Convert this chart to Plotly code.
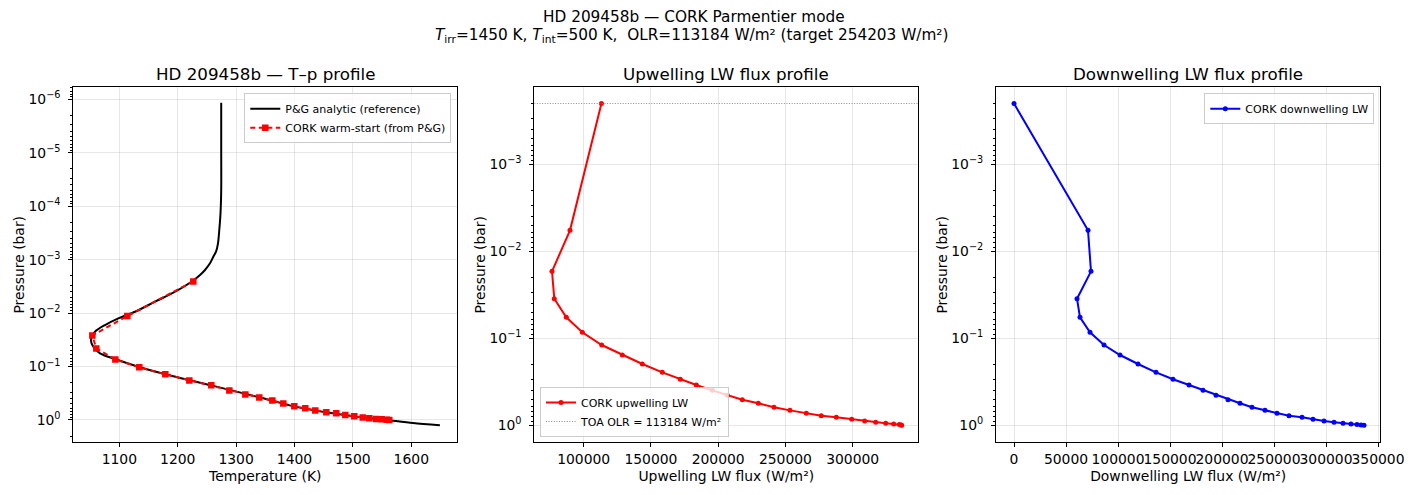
import plotly.graph_objects as go

# ---------------- data ----------------
# P&G analytic reference T-p profile
pg_T = [1274.5, 1274.5, 1274.5, 1273.3, 1271.2, 1269.0, 1265.6, 1261.0, 1255.3, 1246.7,
        1238.2, 1226.7, 1195.4, 1161.1, 1126.9, 1098.3, 1075.5, 1058.4, 1051.5, 1055.5,
        1067.0, 1092.6, 1132.5, 1178.8, 1257.5, 1339.7, 1399.7, 1454.5, 1502.4, 1557.9,
        1603.0, 1649.0]
pg_p = [1.16e-6, 8.9e-6, 5.0e-5, 1.36e-4, 2.79e-4, 4.94e-4, 7.10e-4, 8.81e-4, 1.17e-3, 1.56e-3,
        1.94e-3, 2.45e-3, 3.98e-3, 6.12e-3, 9.42e-3, 0.01253, 0.0167, 0.0223, 0.0320, 0.0426,
        0.0565, 0.0723, 0.1007, 0.1396, 0.2249, 0.3767, 0.5559, 0.7194, 0.8551, 1.0,
        1.140, 1.259]

# CORK warm-start layer temperatures / pressures
cork_T = [1226.7, 1113.7, 1053.8, 1060.6, 1093.2, 1134.2, 1178.8, 1219.9, 1257.5, 1288.4,
          1315.8, 1339.7, 1362.0, 1380.8, 1399.7, 1418.5, 1435.6, 1454.5, 1471.6, 1487.0,
          1502.4, 1516.8, 1528.1, 1539.6, 1549.3, 1557.9, 1562.3]
cork_p = [2.55e-3, 0.01135, 0.0261, 0.0457, 0.0735, 0.1035, 0.140, 0.1816, 0.2249, 0.2793,
          0.3319, 0.3776, 0.4295, 0.4887, 0.5559, 0.6053, 0.6607, 0.7194, 0.7516, 0.8072,
          0.8551, 0.8933, 0.9311, 0.9572, 0.9727, 0.985, 0.995]

# interface pressures for the flux profiles
p_int = [2.0e-4, 5.74e-3, 0.0170, 0.0351, 0.0574, 0.0853, 0.1194, 0.1556, 0.1972, 0.2460,
         0.2958, 0.3443, 0.3963, 0.4519, 0.5082, 0.5585, 0.6209, 0.6730, 0.7278, 0.7762,
         0.8091, 0.8531, 0.8913, 0.9204, 0.9441, 0.9638, 0.9795, 0.9908, 1.0]

flux_up = [113184, 89814, 76431, 78141, 87063, 98959, 113383, 128699, 143569, 158439,
           171822, 183717, 195613, 206766, 217918, 229814, 241487, 253383, 265502, 276654,
           287807, 299257, 308922, 317100, 324535, 330483, 334647, 336000, 336431]

flux_down = [0, 71154, 74038, 60577, 63462, 73077, 86538, 101923, 119231, 136538,
             152885, 168269, 181731, 194231, 205769, 217308, 228846, 241346, 252885, 264423,
             276923, 287500, 298077, 307692, 316346, 324038, 329808, 333654, 336538]

toa_olr = 113184
target_olr = 254203

x1_range = [1021.2, 1678.8]
x2_range = [63271, 348773]
x3_range = [-17308, 352212]

x1_ticks = [1100, 1200, 1300, 1400, 1500, 1600]
x2_ticks = [100000, 150000, 200000, 250000, 300000]
x3_ticks = [0, 50000, 100000, 150000, 200000, 250000, 300000, 350000]

y1_exps = [-6, -5, -4, -3, -2, -1, 0]
y2_exps = [-3, -2, -1, 0]

# ---------------- figure ----------------
W, H = 1414, 495
FONT = "DejaVu Sans"

fig = go.Figure()

fig.add_trace(go.Scatter(x=pg_T, y=pg_p, mode="lines", name="P&G analytic (reference)",
                         line=dict(color="black", width=2, shape="spline", smoothing=0.8),
                         xaxis="x", yaxis="y", legend="legend"))
fig.add_trace(go.Scatter(x=cork_T, y=cork_p, mode="lines+markers",
                         name="CORK warm-start (from P&G)",
                         line=dict(color="red", width=2, dash="5px,3.5px"),
                         marker=dict(symbol="square", size=6.5, color="red"),
                         xaxis="x", yaxis="y", legend="legend"))

fig.add_trace(go.Scatter(x=flux_up, y=p_int, mode="lines+markers", name="CORK upwelling LW",
                         line=dict(color="red", width=2),
                         marker=dict(symbol="circle", size=5, color="red"),
                         xaxis="x2", yaxis="y2", legend="legend2"))
fig.add_trace(go.Scatter(x=x2_range, y=[p_int[0], p_int[0]], mode="lines",
                         name=f"TOA OLR = {toa_olr} W/m²",
                         line=dict(color="gray", width=0.9, dash="1px,1.6px"),
                         xaxis="x2", yaxis="y2", legend="legend2"))

fig.add_trace(go.Scatter(x=flux_down, y=p_int, mode="lines+markers", name="CORK downwelling LW",
                         line=dict(color="blue", width=2),
                         marker=dict(symbol="circle", size=5, color="blue"),
                         xaxis="x3", yaxis="y3", legend="legend3"))

grid_col = "rgba(176,176,176,0.3)"
tickfont = dict(family=FONT, size=13.9, color="black")
titlefont = dict(family=FONT, size=13.9, color="black")


def xaxis(dom, rng, ticks, title, anchor):
    return dict(domain=dom, range=rng, tickvals=ticks, ticktext=[str(t) for t in ticks],
                tickangle=0, showline=True, linecolor="black", linewidth=1, mirror=True,
                ticks="outside", ticklen=4, tickwidth=0.8, tickcolor="black",
                showgrid=True, gridcolor=grid_col, gridwidth=1, zeroline=False,
                tickfont=tickfont, anchor=anchor, automargin=False,
                title=dict(text=title, font=titlefont, standoff=5))


def yaxis(rng, exps, anchor):
    major = [10.0 ** e for e in exps]
    lo, hi = int(min(rng)) - 1, int(max(rng)) + 1
    minor = [m * 10.0 ** e for e in range(lo, hi + 1) for m in range(2, 10)]
    text = [f"10<sup>{'−' if e < 0 else ''}{abs(e)}</sup>" for e in exps]
    return dict(domain=[0.1065, 0.8236], type="log", range=rng, tickvals=major, ticktext=text,
                showline=True, linecolor="black", linewidth=1, mirror=True,
                ticks="outside", ticklen=4, tickwidth=0.8, tickcolor="black",
                ticklabelstandoff=5,
                showgrid=True, gridcolor=grid_col, gridwidth=1, zeroline=False,
                tickfont=tickfont, anchor=anchor, automargin=False,
                minor=dict(tickvals=minor, ticks="outside", ticklen=2, tickwidth=0.6,
                           tickcolor="black", showgrid=False),
                title=dict(text="Pressure (bar)", font=titlefont, standoff=0))


legend_common = dict(font=dict(family=FONT, size=11, color="black"),
                     bgcolor="rgba(255,255,255,0.8)", bordercolor="#cccccc", borderwidth=1,
                     tracegroupgap=0, itemwidth=30)

fig.update_layout(
    width=W, height=H, margin=dict(l=0, r=0, t=0, b=0, autoexpand=False),
    paper_bgcolor="white", plot_bgcolor="white",
    font=dict(family=FONT, size=13.9, color="black"),
    xaxis=xaxis([73.3 / W, 457.3 / W], x1_range, x1_ticks, "Temperature (K)", "y"),
    xaxis2=xaxis([534.3 / W, 918.3 / W], x2_range, x2_ticks, "Upwelling LW flux (W/m²)", "y2"),
    xaxis3=xaxis([996 / W, 1380.3 / W], x3_range, x3_ticks, "Downwelling LW flux (W/m²)", "y3"),
    yaxis=yaxis([0.417, -6.225], y1_exps, "x"),
    yaxis2=yaxis([0.195, -3.885], y2_exps, "x2"),
    yaxis3=yaxis([0.195, -3.885], y2_exps, "x3"),
    legend=dict(x=451.3 / W, y=1 - 93.3 / H, xanchor="right", yanchor="top", **legend_common),
    legend2=dict(x=540 / W, y=1 - 437 / H, xanchor="left", yanchor="bottom", **legend_common),
    legend3=dict(x=1374.3 / W, y=1 - 93.3 / H, xanchor="right", yanchor="top", **legend_common),
)

ann = [
    dict(text="HD 209458b — CORK Parmentier mode", x=694 / W, y=1 - 17 / H, size=15.3),
    dict(text=f"<i>T</i><sub>irr</sub>=1450 K, <i>T</i><sub>int</sub>=500 K,  "
              f"OLR={toa_olr} W/m² (target {target_olr} W/m²)", x=691 / W, y=1 - 36 / H, size=15.3),
    dict(text="HD 209458b — T–p profile", x=265.3 / W, y=1 - 74 / H, size=16.7),
    dict(text="Upwelling LW flux profile", x=726.3 / W, y=1 - 74 / H, size=16.7),
    dict(text="Downwelling LW flux profile", x=1188.2 / W, y=1 - 74 / H, size=16.7),
]
for a in ann:
    fig.add_annotation(text=a["text"], x=a["x"], y=a["y"], xref="paper", yref="paper",
                       xanchor="center", yanchor="middle", showarrow=False,
                       font=dict(family=FONT, size=a["size"], color="black"))

fig.write_html("out.html", config={"displayModeBar": False},
               post_script="document.body.style.margin='0';document.body.style.overflow='hidden';")
